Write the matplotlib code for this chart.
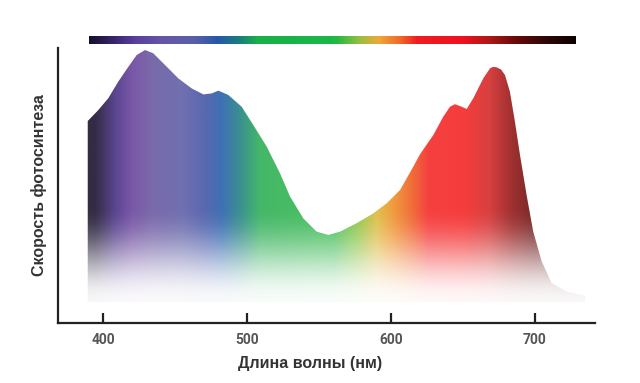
import numpy as np
import matplotlib
matplotlib.use("Agg")
import matplotlib.pyplot as plt
from matplotlib.colors import LinearSegmentedColormap

plt.rcParams['font.family'] = ['Liberation Sans', 'DejaVu Sans']

# photosynthesis rate (relative, peak = 100)
wavelength = [389.4, 396.8, 403.7, 410.6, 417.6, 423.4, 429.2, 434.9, 443.1,
              452.3, 461.6, 469.7, 475.5, 480.1, 487.0, 496.3, 504.4, 513.7,
              522.9, 529.9, 539.1, 548.4, 556.5, 564.6, 576.2, 587.7, 597.0,
              606.3, 615.5, 620.1, 629.4, 636.3, 641.0, 644.4, 649.1, 652.6,
              657.2, 664.1, 668.8, 671.0, 673.4, 676.5, 679.2, 682.6, 686.1,
              689.6, 694.2, 698.8, 704.7, 711.6, 722.0, 734.7]
rate = [72.1, 76.5, 81.2, 87.8, 93.7, 98.4, 100.4, 99.1, 94.4,
        89.1, 85.1, 82.7, 83.1, 84.2, 82.5, 77.8, 70.5, 61.9,
        51.3, 42.0, 33.3, 28.0, 26.7, 28.0, 31.4, 35.3, 39.3,
        44.6, 53.9, 58.8, 66.5, 73.8, 77.8, 78.8, 77.8, 76.9,
        81.2, 89.1, 93.1, 93.7, 93.5, 92.6, 90.4, 83.8, 71.8,
        58.6, 42.6, 28.0, 16.1, 7.5, 4.1, 2.5]

# colours under the curve
fill_wl = [389, 394, 408, 420, 434, 455, 470, 482, 495, 509, 560,
           576, 590, 600, 614, 626, 651, 668, 684, 698, 735]
fill_colors = ['#332c44', '#332c44', '#5a4590', '#7a58a8', '#7a6aaa', '#7070b0',
               '#5a68b0', '#3e70b4', '#3a9090', '#44b868', '#4cc060',
               '#90c850', '#e0c050', '#f0a040', '#f07038', '#f54040', '#f53c3c',
               '#d84040', '#a03030', '#7a2a2a', '#5a3535']

# spectrum strip on top
bar_wl = [390, 408, 422, 441, 463, 479, 493, 507, 558, 563, 577, 591, 606,
          618, 649, 668, 687, 706, 728]
bar_colors = ['#151030', '#3a2870', '#5a40a0', '#6656a8', '#5a5fa8', '#2558a8',
              '#1a7a80', '#18b048', '#1ab848', '#28b840', '#90c040', '#f0a838',
              '#f06a28', '#f01c20', '#f01020', '#b01818', '#6a0808', '#300808',
              '#100000']

xticks = [400, 500, 600, 700]


def make_cmap(wl, colors):
    lo, hi = wl[0], wl[-1]
    stops = [((w - lo) / (hi - lo), c) for w, c in zip(wl, colors)]
    return LinearSegmentedColormap.from_list('spec', stops, N=512)


fig = plt.figure(figsize=(6.4, 3.83), dpi=100)
ax = fig.add_axes([58 / 640, 1 - 323 / 383, (595 - 58) / 640, (323 - 48) / 383])
xlim = (368.75, 741.7)
ax.set_xlim(*xlim)
ax.set_ylim(-8.4, 101.2)

# gradient image clipped by the curve, fading to white at the base
fill_cmap = make_cmap(fill_wl, fill_colors)
xs = np.linspace(fill_wl[0], fill_wl[-1], 700)
hs = np.linspace(0, 101, 400)
cols = fill_cmap((xs - xs[0]) / (xs[-1] - xs[0]))[:, :3]
u = np.clip(hs / 38.0, 0, 1)
t = (0.04 + 0.96 * (3 * u ** 2 - 2 * u ** 3))[:, None, None]
img = 1 - t * (1 - cols[None, :, :])
poly = ax.fill_between(wavelength, 0, rate, facecolor='none', edgecolor='none')
im = ax.imshow(img, extent=[xs[0], xs[-1], 0, 101], origin='lower',
               aspect='auto', interpolation='bilinear', zorder=1)
im.set_clip_path(poly.get_paths()[0], transform=ax.transData)

for s in ['top', 'right']:
    ax.spines[s].set_visible(False)
for s in ['left', 'bottom']:
    ax.spines[s].set_linewidth(1.6)
    ax.spines[s].set_color('#222222')
ax.set_yticks([])
ax.set_xticks(xticks)
ax.set_xticklabels([str(v) for v in xticks], fontfamily='Roboto',
                   fontweight='bold', fontsize=10, color='#555555')
ax.tick_params(axis='x', direction='in', length=7, width=1.6, color='#222222',
               pad=7)
ax.set_xlabel('Длина волны (нм)', fontsize=11.5, fontweight='bold',
              color='#333333')
ax.xaxis.set_label_coords((310 - 58) / 537, -0.12)
ax.set_ylabel('Скорость фотосинтеза', fontsize=11.5, fontweight='bold',
              color='#333333', labelpad=8)

# spectrum strip
bax = fig.add_axes([58 / 640, 1 - 44 / 383, (595 - 58) / 640, 8 / 383])
bar_cmap = make_cmap(bar_wl, bar_colors)
bx = np.linspace(0, 1, 600)[None, :]
bax.imshow(bar_cmap(bx), extent=[bar_wl[0], bar_wl[-1], 0, 1],
           aspect='auto', interpolation='bilinear')
bax.set_xlim(*xlim)
bax.set_ylim(0, 1)
bax.axis('off')

fig.savefig('out.png', dpi=100)
